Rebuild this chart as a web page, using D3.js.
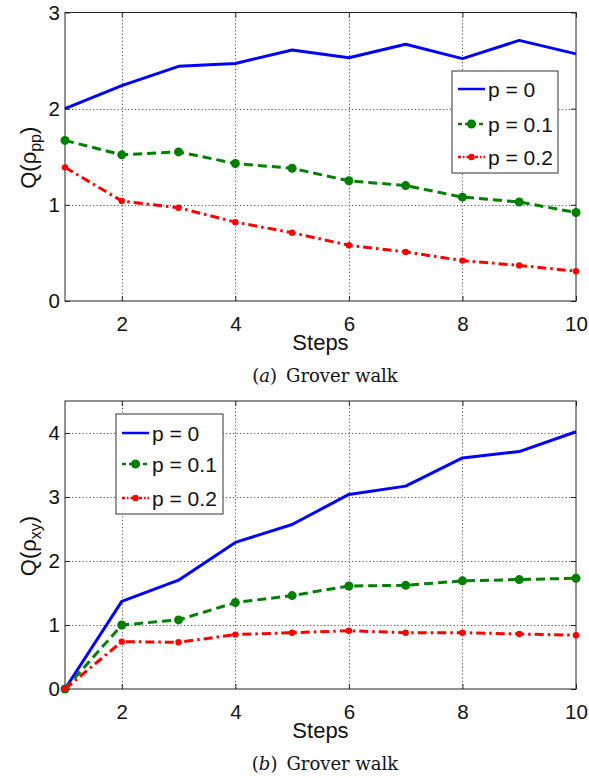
<!DOCTYPE html>
<html><head><meta charset="utf-8">
<script src="https://cdn.jsdelivr.net/npm/d3@7"></script>
<style>body{margin:0;background:#fff} svg{display:block}</style>
</head><body>
<svg id="c" width="589" height="778"></svg>
<script>
const steps = [1,2,3,4,5,6,7,8,9,10];
const seriesNames = ["p = 0","p = 0.1","p = 0.2"];
const ppP0  = [2.00,2.24,2.44,2.47,2.61,2.53,2.67,2.52,2.71,2.57];
const ppP01 = [1.67,1.52,1.55,1.43,1.38,1.25,1.20,1.08,1.03,0.92];
const ppP02 = [1.39,1.04,0.97,0.82,0.71,0.58,0.51,0.42,0.37,0.31];
const xyP0  = [0,1.37,1.70,2.29,2.57,3.04,3.17,3.61,3.71,4.02];
const xyP01 = [0,1.00,1.08,1.35,1.46,1.61,1.62,1.69,1.71,1.73];
const xyP02 = [0,0.74,0.73,0.85,0.88,0.91,0.88,0.88,0.86,0.84];
const xTicks = [2,4,6,8,10];
const ppYTicks = [0,1,2,3];
const xyYTicks = [0,1,2,3,4];

const colors = ["#0000ff","#008000","#ff0000"];
const dashes = [null,"9,5","9,4,2.5,4"];
const markerR = [0,4.5,3.2];
const SANS = "'Liberation Sans', Arial, sans-serif";
const SERIF = "'DejaVu Serif', serif";

const svg = d3.select("#c");

function panel(cfg){
  const g = svg.append("g");
  const x = d3.scaleLinear().domain([1,10]).range([65,576]);
  const y = d3.scaleLinear().domain(cfg.yDomain).range(cfg.yRange);
  const [x0,x1] = x.range(); const [yb,yt] = y.range();

  // grid
  const grid = g.append("g").attr("stroke","#555").attr("stroke-width",1).attr("stroke-dasharray","1.2,2.3");
  grid.selectAll(".gx").data(xTicks.filter(d=>d<10)).enter().append("line")
    .attr("x1",d=>Math.round(x(d))+0.5).attr("x2",d=>Math.round(x(d))+0.5).attr("y1",yb).attr("y2",yt);
  grid.selectAll(".gy").data(cfg.yTicks.filter(d=>d>cfg.yDomain[0] && d<cfg.yDomain[1])).enter().append("line")
    .attr("y1",d=>Math.round(y(d))+0.5).attr("y2",d=>Math.round(y(d))+0.5).attr("x1",x0).attr("x2",x1);

  // axes
  const ax = g.append("g").attr("transform",`translate(0,${yb})`)
    .call(d3.axisBottom(x).tickValues(xTicks).tickSizeInner(-5).tickSizeOuter(0).tickPadding(15));
  const ay = g.append("g").attr("transform",`translate(${x0},0)`)
    .call(d3.axisLeft(y).tickValues(cfg.yTicks).tickSizeInner(-5).tickSizeOuter(0).tickPadding(5).tickFormat(d3.format("d")));
  const axT = g.append("g").attr("transform",`translate(0,${yt})`)
    .call(d3.axisTop(x).tickValues(xTicks).tickSizeInner(-5).tickSizeOuter(0).tickFormat(""));
  const ayR = g.append("g").attr("transform",`translate(${x1},0)`)
    .call(d3.axisRight(y).tickValues(cfg.yTicks).tickSizeInner(-5).tickSizeOuter(0).tickFormat(""));
  [ax,ay,axT,ayR].forEach(a=>{
    a.select(".domain").remove();
    a.selectAll("text").attr("font-family",SANS).attr("font-size",20.5).attr("fill","#111");
    a.selectAll("line").attr("stroke","#222");
  });
  g.append("rect").attr("x",x0).attr("y",yt).attr("width",x1-x0).attr("height",yb-yt)
    .attr("fill","none").attr("stroke","#222").attr("stroke-width",1);

  // series
  cfg.series.forEach((vals,i)=>{
    const line = d3.line().x((d,j)=>x(steps[j])).y(d=>y(d));
    g.append("path").datum(vals).attr("d",line).attr("fill","none")
      .attr("stroke",colors[i]).attr("stroke-width",3).attr("stroke-linejoin","round")
      .attr("stroke-dasharray",dashes[i]);
    if(markerR[i]>0){
      g.selectAll(null).data(vals).enter().append("circle")
        .attr("cx",(d,j)=>x(steps[j])).attr("cy",d=>y(d)).attr("r",markerR[i]).attr("fill",colors[i]);
    }
  });

  // legend
  const L = cfg.legend;
  const lg = g.append("g");
  lg.append("rect").attr("x",L.x).attr("y",L.y).attr("width",L.w).attr("height",L.h)
    .attr("fill","#fff").attr("stroke","#333").attr("stroke-width",1);
  seriesNames.forEach((name,i)=>{
    const cy = L.y + L.rows[i];
    lg.append("line").attr("x1",L.x+6).attr("x2",L.x+33).attr("y1",cy).attr("y2",cy)
      .attr("stroke",colors[i]).attr("stroke-width",2.5).attr("stroke-dasharray",dashes[i]? (i==1?"4,3":"3,2,1.5,2"):null);
    if(markerR[i]>0) lg.append("circle").attr("cx",L.x+19.5).attr("cy",cy).attr("r",markerR[i]).attr("fill",colors[i]);
    lg.append("text").attr("x",L.x+36).attr("y",cy).attr("dy","0.36em")
      .attr("font-family",SANS).attr("font-size",21).attr("fill","#111").text(name);
  });

  // x label
  g.append("text").attr("x",(x0+x1)/2).attr("y",yb+49).attr("text-anchor","middle")
    .attr("font-family",SANS).attr("font-size",22).attr("fill","#111").text("Steps");

  // y label
  const yl = g.append("text").attr("transform",`translate(36,${(yb+yt)/2+1}) rotate(-90)`)
    .attr("text-anchor","middle").attr("font-family",SANS).attr("font-size",22).attr("fill","#111");
  yl.append("tspan").text("Q(\u03c1");
  yl.append("tspan").attr("font-size",16).attr("dy",5).text(cfg.sub);
  yl.append("tspan").attr("dy",-5).text(")");

  // caption
  const cap = g.append("text").attr("x",325).attr("y",yb+81).attr("text-anchor","middle")
    .attr("font-family",SERIF).attr("font-size",18).attr("fill","#111");
  cap.append("tspan").text("(");
  cap.append("tspan").attr("font-style","italic").text(cfg.letter);
  cap.append("tspan").text(")\u2002Grover walk");
}

panel({yDomain:[0,3], yRange:[301,12.5], yTicks:ppYTicks, series:[ppP0,ppP01,ppP02],
  legend:{x:452,y:71,w:106,h:102,rows:[18,53,86]}, sub:"pp", letter:"a"});
panel({yDomain:[0,4.5], yRange:[689,401], yTicks:xyYTicks, series:[xyP0,xyP01,xyP02],
  legend:{x:116,y:414,w:107,h:100,rows:[19,50,84]}, sub:"xy", letter:"b"});
</script>
</body></html>
